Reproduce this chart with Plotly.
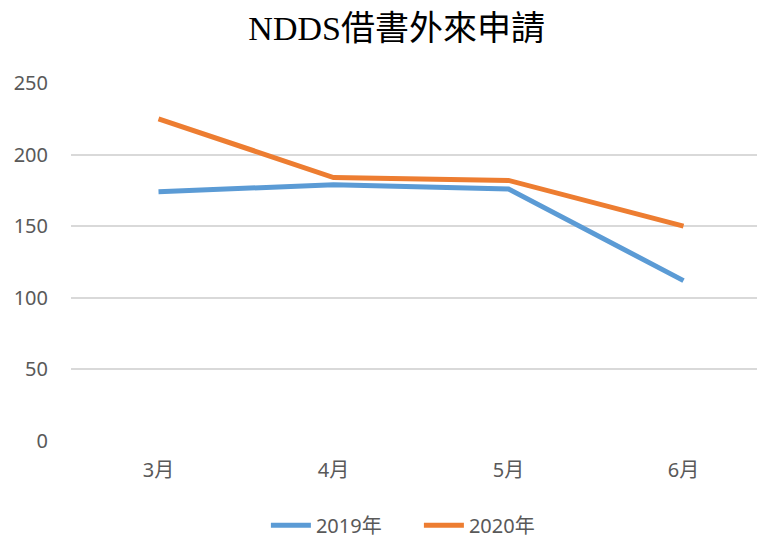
import plotly.graph_objects as go

categories = ["3月", "4月", "5月", "6月"]
series_2019 = [174, 179, 176, 112]
series_2020 = [225, 184, 182, 150]
y_ticks = [0, 50, 100, 150, 200, 250]

label_font = "Noto Sans, Noto Sans CJK TC, sans-serif"

fig = go.Figure()
fig.add_trace(go.Scatter(x=categories, y=series_2019, mode="lines", name="2019年",
                         line=dict(color="#5B9BD5", width=5)))
fig.add_trace(go.Scatter(x=categories, y=series_2020, mode="lines", name="2020年",
                         line=dict(color="#ED7D31", width=5)))

fig.update_layout(
    width=765, height=539,
    margin=dict(l=63, r=2, t=75, b=106),
    paper_bgcolor="white", plot_bgcolor="white",
    title=dict(text="NDDS借書外來申請", x=0.508, xanchor="center", y=0.963, yanchor="middle",
               font=dict(family="Liberation Serif, Noto Sans CJK TC, serif", size=34, color="#000000")),
    xaxis=dict(range=[-0.5, 3.5], showgrid=False, zeroline=False, showline=False,
               ticks="", tickfont=dict(family=label_font, size=20, color="#595959"),
               ticklabelstandoff=15),
    yaxis=dict(range=[0, 250], tickvals=y_ticks, showgrid=True, gridcolor="#D9D9D9", gridwidth=1.5,
               zeroline=False, showline=False, ticks="",
               tickfont=dict(family=label_font, size=20, color="#595959"),
               ticklabelstandoff=22),
    legend=dict(orientation="h", x=0.497, xanchor="center", y=-0.235, yanchor="middle",
                font=dict(family=label_font, size=20, color="#595959"),
                itemwidth=40, entrywidth=98, traceorder="normal"),
    showlegend=True,
)

fig.write_html("out.html")
